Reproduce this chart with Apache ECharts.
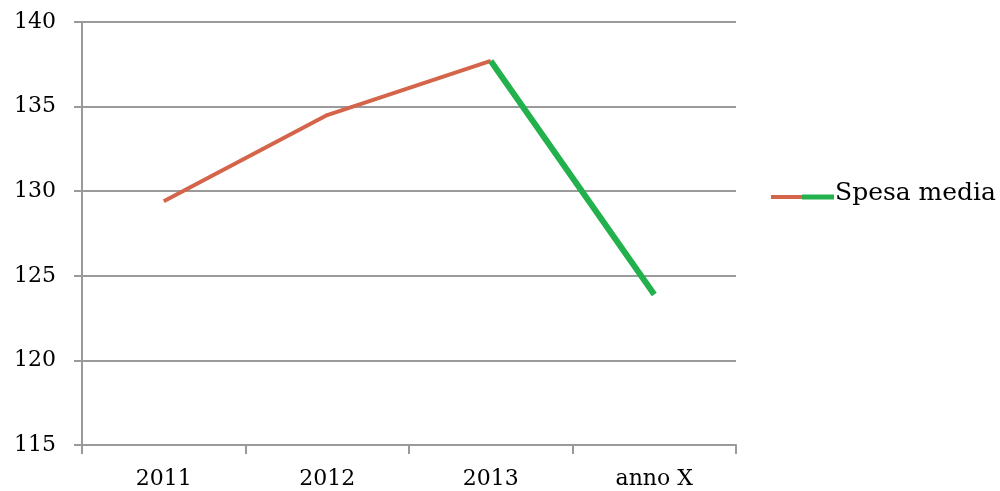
<!DOCTYPE html>
<html>
<head>
<meta charset="utf-8">
<script src="https://cdn.jsdelivr.net/npm/echarts@6/dist/echarts.min.js"></script>
<style>html,body{margin:0;padding:0;background:#fff;}#c{width:1000px;height:491px;}</style>
</head>
<body>
<div id="c"></div>
<script>
const categories = ['2011', '2012', '2013', 'anno X'];
const values = [129.4, 134.5, 137.7, 123.9];
const yTicks = [115, 120, 125, 130, 135, 140];
const seriesName = 'Spesa media';
const splitIndex = 2; // green from 2013 on

const firstPart = values.map((v, i) => i <= splitIndex ? v : '-');
const secondPart = values.map((v, i) => i >= splitIndex ? v : '-');

const font = '"DejaVu Serif", "Liberation Serif", serif';
const chart = echarts.init(document.getElementById('c'));
chart.setOption({
  animation: false,
  grid: { left: 82, right: 264, top: 22, bottom: 46 },
  xAxis: {
    type: 'category',
    data: categories,
    boundaryGap: true,
    axisLine: { lineStyle: { color: '#9a9a9a', width: 2 } },
    axisTick: { show: true, length: 9, lineStyle: { color: '#9a9a9a', width: 2 } },
    axisLabel: { color: '#000', fontFamily: font, fontSize: 22, margin: 23 }
  },
  yAxis: {
    type: 'value',
    min: yTicks[0],
    max: yTicks[yTicks.length - 1],
    interval: 5,
    axisLine: { show: true, lineStyle: { color: '#9a9a9a', width: 2 } },
    axisTick: { show: true, length: 8, lineStyle: { color: '#9a9a9a', width: 2 } },
    splitLine: { lineStyle: { color: '#9a9a9a', width: 2 } },
    axisLabel: { color: '#000', fontFamily: font, fontSize: 22, margin: 26 }
  },
  series: [
    {
      name: seriesName, type: 'line', data: firstPart, symbol: 'none',
      lineStyle: { color: '#d4654a', width: 4 }, z: 2
    },
    {
      name: seriesName + ' (anno X)', type: 'line', data: secondPart, symbol: 'none',
      lineStyle: { color: '#22b14c', width: 6 }, z: 3
    }
  ],
  graphic: [
    { type: 'line', shape: { x1: 771, y1: 197, x2: 803, y2: 197 }, style: { stroke: '#d4654a', lineWidth: 4 } },
    { type: 'line', shape: { x1: 802, y1: 197, x2: 834, y2: 197 }, style: { stroke: '#22b14c', lineWidth: 5 } },
    { type: 'text', left: 835, top: 181, style: { text: seriesName, font: '25px ' + font, fill: '#000' } }
  ]
});
</script>
</body>
</html>
